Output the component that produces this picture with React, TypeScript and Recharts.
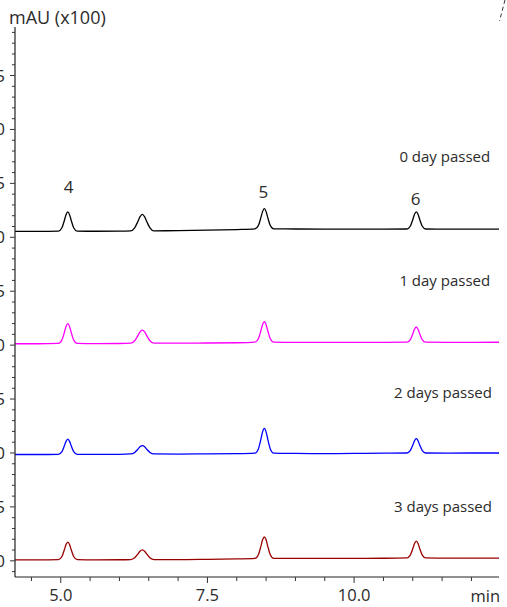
import React from 'react';
import { LineChart, Line, XAxis, YAxis, ReferenceDot, Customized } from 'recharts';

const times = [
  4.2, 4.6, 4.96, 5.02, 5.06, 5.09, 5.12, 5.15, 5.18, 5.22, 5.28, 5.6, 6.0,
  6.19, 6.26, 6.31, 6.35, 6.39, 6.43, 6.47, 6.52, 6.59, 7.0, 7.5, 8.0,
  8.31, 8.37, 8.41, 8.44, 8.47, 8.5, 8.53, 8.57, 8.63, 9.0, 9.5, 10.0, 10.5,
  10.9, 10.96, 11.0, 11.03, 11.06, 11.09, 11.12, 11.16, 11.22, 11.6, 12.0, 12.47,
];

const day0 = [
  3.055, 3.055, 3.058, 3.089, 3.154, 3.21, 3.235, 3.21, 3.154, 3.089, 3.058, 3.056, 3.057,
  3.06, 3.088, 3.141, 3.19, 3.212, 3.19, 3.141, 3.088, 3.06, 3.062, 3.066, 3.072,
  3.078, 3.111, 3.18, 3.238, 3.265, 3.238, 3.18, 3.111, 3.078, 3.077, 3.076, 3.076, 3.075,
  3.077, 3.105, 3.163, 3.213, 3.235, 3.213, 3.163, 3.105, 3.077, 3.075, 3.075, 3.075,
];

const day1 = [
  2.013, 2.013, 2.016, 2.048, 2.115, 2.173, 2.199, 2.173, 2.115, 2.048, 2.016, 2.014, 2.015,
  2.018, 2.041, 2.083, 2.123, 2.14, 2.123, 2.083, 2.041, 2.018, 2.018, 2.02, 2.022,
  2.028, 2.061, 2.131, 2.19, 2.217, 2.19, 2.131, 2.061, 2.028, 2.025, 2.025, 2.026, 2.025,
  2.027, 2.052, 2.104, 2.148, 2.168, 2.148, 2.104, 2.052, 2.027, 2.026, 2.026, 2.027,
];

const day2 = [
  0.986, 0.986, 0.988, 1.013, 1.064, 1.108, 1.128, 1.108, 1.064, 1.013, 0.988, 0.987, 0.988,
  0.991, 1.005, 1.032, 1.058, 1.069, 1.058, 1.032, 1.005, 0.991, 0.99, 0.992, 0.994,
  0.999, 1.04, 1.124, 1.196, 1.228, 1.196, 1.124, 1.04, 0.999, 0.996, 0.994, 0.996, 0.998,
  1.0, 1.024, 1.072, 1.114, 1.133, 1.114, 1.072, 1.024, 1.0, 0.999, 1.0, 1.0,
];

const day3 = [
  0.009, 0.009, 0.011, 0.04, 0.1, 0.151, 0.174, 0.151, 0.1, 0.04, 0.011, 0.009, 0.01,
  0.012, 0.028, 0.06, 0.089, 0.102, 0.089, 0.06, 0.028, 0.012, 0.011, 0.014, 0.018,
  0.023, 0.059, 0.132, 0.195, 0.223, 0.195, 0.132, 0.059, 0.023, 0.022, 0.022, 0.023, 0.024,
  0.027, 0.055, 0.112, 0.161, 0.183, 0.161, 0.112, 0.055, 0.027, 0.025, 0.025, 0.025,
];

const seriesNames = ['0 day passed', '1 day passed', '2 days passed', '3 days passed'];
const seriesColors = ['#000000', '#ff00ff', '#0000ff', '#990000'];
const seriesValues = [day0, day1, day2, day3];

const xMajorTicks = [5.0, 7.5, 10.0];
const xTicks = [4.5, 5.0, 5.5, 6.0, 6.5, 7.0, 7.5, 8.0, 8.5, 9.0, 9.5, 10.0, 10.5, 11.0, 11.5, 12.0];
const yMajorTicks = [0, 0.5, 1.0, 1.5, 2.0, 2.5, 3.0, 3.5, 4.0, 4.5];
const xDomain = [4.22, 12.47];
const yDomain = [-0.15, 4.95];

const peakLabels = [
  { t: 5.133, v: 3.47, text: '4' },
  { t: 8.455, v: 3.426, text: '5' },
  { t: 11.05, v: 3.363, text: '6' },
];
const traceLabels = [
  { t: 12.32, v: 3.757, text: '0 day passed' },
  { t: 12.32, v: 2.607, text: '1 day passed' },
  { t: 12.35, v: 1.568, text: '2 days passed' },
  { t: 12.35, v: 0.51, text: '3 days passed' },
];

const yTicks: number[] = [];
for (let i = -1; i <= 49; i++) yTicks.push(Math.round(i) / 10);

const data = times.map((t, i) => ({
  t,
  s0: day0[i],
  s1: day1[i],
  s2: day2[i],
  s3: day3[i],
}));

const FONT = '"Open Sans", "Noto Sans", sans-serif';
const TXT = '#2b2b2b';

const isMajorX = (v: number) => xMajorTicks.some((m) => Math.abs(m - v) < 1e-6);
const isMajorY = (v: number) => yMajorTicks.some((m) => Math.abs(m - v) < 1e-6);

const XTick = (props: any) => {
  const { x, y, payload } = props;
  const v = payload.value;
  const major = isMajorX(v);
  return (
    <g>
      <line x1={x} x2={x} y1={y} y2={y + (major ? 6 : 4)} stroke="#333" strokeWidth={1} />
      {major && (
        <text x={x} y={y + 24} textAnchor="middle" fontSize={16.5} fontFamily={FONT} fill={TXT}>
          {v.toFixed(1)}
        </text>
      )}
    </g>
  );
};

const YTick = (props: any) => {
  const { x, y, payload } = props;
  const v = payload.value;
  const major = isMajorY(v);
  return (
    <g>
      <line x1={x - (major ? 5 : 3)} x2={x} y1={y} y2={y} stroke="#333" strokeWidth={1} />
      {major && (
        <text x={x - 10} y={y + 6} textAnchor="end" fontSize={17} fontFamily={FONT} fill={TXT}>
          {v.toFixed(1)}
        </text>
      )}
    </g>
  );
};

const makeLabel = (text: string, size: number, anchor: 'middle' | 'end') => (p: any) => {
  const vb = p.viewBox || {};
  const cx = (vb.x ?? 0) + (vb.width ?? 0) / 2;
  const cy = (vb.y ?? 0) + (vb.height ?? 0) / 2;
  return (
    <text x={cx} y={cy} textAnchor={anchor} dominantBaseline="central" fontSize={size} fontFamily={FONT} fill={TXT}>
      {text}
    </text>
  );
};

const Overlay = () => (
  <g>
    <text x={9} y={24} fontSize={18} fontFamily={FONT} fill={TXT}>
      mAU (x100)
    </text>
    <text x={500} y={602} textAnchor="end" fontSize={16.5} fontFamily={FONT} fill={TXT}>
      min
    </text>
    <line x1={505} y1={0} x2={499.5} y2={21} stroke="#333" strokeWidth={1} strokeDasharray="4 3" />
  </g>
);

export default function App() {
  return (
    <div style={{ position: 'absolute', left: 0, top: 0, width: 507, height: 607, background: '#fff' }}>
      <LineChart width={507} height={607} data={data} margin={{ top: 27, right: 8, bottom: 0, left: 0 }}>
        <XAxis
          xAxisId="b"
          dataKey="t"
          type="number"
          domain={xDomain}
          allowDataOverflow
          ticks={xTicks}
          interval={0}
          height={30}
          tickSize={0}
          tickMargin={0}
          tickLine={false}
          tick={<XTick />}
          axisLine={{ stroke: '#222', strokeWidth: 1 }}
        />
        <XAxis
          xAxisId="t"
          orientation="top"
          dataKey="t"
          type="number"
          domain={xDomain}
          allowDataOverflow
          height={0}
          tick={false}
          tickLine={false}
          axisLine={{ stroke: '#808080', strokeWidth: 1.5 }}
        />
        <YAxis
          yAxisId="l"
          type="number"
          domain={yDomain}
          allowDataOverflow
          ticks={yTicks}
          interval={0}
          width={15}
          tickSize={0}
          tickMargin={0}
          tickLine={false}
          tick={<YTick />}
          axisLine={{ stroke: '#222', strokeWidth: 1.2 }}
        />
        <YAxis
          yAxisId="r"
          orientation="right"
          type="number"
          domain={yDomain}
          allowDataOverflow
          width={0}
          tick={false}
          tickLine={false}
          axisLine={{ stroke: '#333', strokeWidth: 1.2 }}
        />
        {seriesValues.map((_, i) => (
          <Line
            key={seriesNames[i]}
            xAxisId="b"
            yAxisId="l"
            dataKey={`s${i}`}
            name={seriesNames[i]}
            type="monotone"
            stroke={seriesColors[i]}
            strokeWidth={1.3}
            dot={false}
            activeDot={false}
            isAnimationActive={false}
          />
        ))}
        {peakLabels.map((p) => (
          <ReferenceDot
            key={`p${p.text}`}
            xAxisId="b"
            yAxisId="l"
            x={p.t}
            y={p.v}
            r={0}
            fill="none"
            stroke="none"
            label={makeLabel(p.text, 17, 'middle')}
          />
        ))}
        {traceLabels.map((p) => (
          <ReferenceDot
            key={p.text}
            xAxisId="b"
            yAxisId="l"
            x={p.t}
            y={p.v}
            r={0}
            fill="none"
            stroke="none"
            label={makeLabel(p.text, 15, 'end')}
          />
        ))}
        <Customized component={<Overlay />} />
      </LineChart>
    </div>
  );
}
